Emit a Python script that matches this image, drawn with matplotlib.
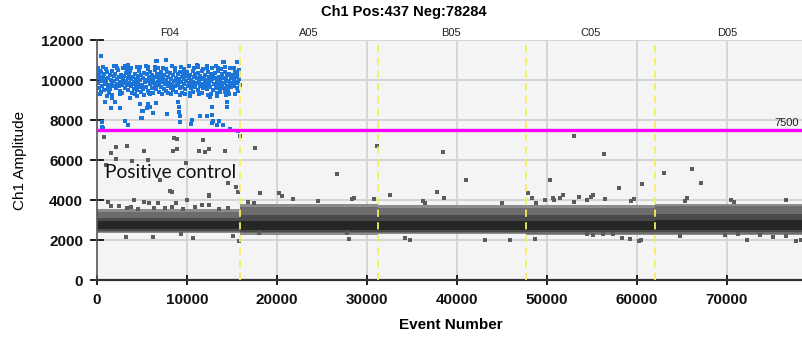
import matplotlib
matplotlib.use("Agg")
import matplotlib.pyplot as plt
from matplotlib.transforms import blended_transform_factory
import numpy as np

# ---------------- data ----------------
title = "Ch1 Pos:437 Neg:78284"
threshold = 7500
total_events = 78721

well_names = ["F04", "A05", "B05", "C05", "D05"]
well_edges = [0, 15900, 31200, 47700, 62000, total_events]
well_label_x = [8100, 23550, 39300, 54800, 70000]

# negative droplet cluster (dense band) per well: fringe / outer / mid / core extents
band_fringe_lo = [2330, 2260, 2280, 2230, 2230]
band_fringe_hi = [3550, 3780, 3750, 3760, 3800]
band_outer_lo = [2400, 2330, 2350, 2300, 2300]
band_outer_hi = [3420, 3650, 3620, 3620, 3680]
band_mid_lo = [2450, 2400, 2400, 2380, 2380]
band_mid_hi = [3100, 3250, 3250, 3250, 3300]
band_core_lo = [2560, 2520, 2520, 2500, 2500]
band_core_hi = [2950, 2960, 2960, 2960, 3000]

# isolated negative (gray) droplets
neg_points = [
    (811, 7165), (8556, 7115), (8856, 7065), (11744, 6985), (2078, 6650), (3300, 6715),
    (1556, 6350), (5222, 6465), (8411, 6465), (8922, 6550), (11367, 6465), (12000, 6425),
    (12478, 6575), (14222, 6475), (2078, 6035), (3856, 5965), (5633, 6000), (9889, 5835),
    (15922, 7200), (14589, 4865), (15444, 4650), (15700, 4415), (8111, 4465), (8367, 4385),
    (12478, 4265), (967, 5765), (7000, 5000),
    (1256, 3915), (4111, 4015), (5222, 3915), (5811, 3850), (6811, 3835), (8778, 3850),
    (10000, 4000), (12444, 4215), (1556, 3715), (2444, 3715), (3300, 3585), (3744, 3635),
    (4589, 3550), (6367, 3585), (7556, 3615), (8300, 3665), (9522, 3550), (10889, 3665),
    (11633, 3750), (12478, 3750), (13589, 3535), (14589, 3585),
    (9333, 2300), (10667, 2100), (15144, 2185), (15778, 1950), (3189, 2135), (6256, 2165),
    (17556, 6585), (26700, 5285), (31074, 6685), (18111, 4365), (20256, 4365), (20589, 4215),
    (21815, 4050), (24589, 3965), (28367, 4050), (28589, 4115), (30811, 4050), (32556, 4265),
    (36256, 3965), (36444, 3865), (16811, 3915), (17478, 3865), (15078, 2200), (18033, 2365),
    (27744, 2365), (28000, 2050), (34222, 2085), (34778, 2000),
    (38411, 6415), (53000, 7200), (56367, 6285), (40967, 5015), (50333, 5015), (57967, 4615),
    (37744, 4415), (38556, 4115), (44967, 3865), (47922, 4365), (48367, 4115), (48822, 3865),
    (49778, 4000), (50633, 4115), (50778, 4000), (51444, 4115), (51811, 4250), (53589, 4165),
    (54411, 4000), (54856, 4165), (55078, 4265), (53033, 3915), (56478, 4035),
    (48700, 2050), (54478, 2285), (55078, 2235), (56256, 2285), (57300, 2285), (43111, 2000),
    (45889, 2000),
    (60522, 4800), (63000, 5365), (66078, 5550), (67078, 4865), (65522, 4115), (65367, 3965),
    (59667, 4050), (59300, 3965), (70411, 4000), (70778, 3900), (76556, 4000),
    (58300, 2100), (59222, 2035), (60256, 1950), (60444, 2000), (64778, 2200), (69778, 2250),
    (71256, 2285), (72189, 2000), (73667, 2250), (75078, 2165), (76556, 2200), (77633, 1950),
    (78189, 2000),
]

# positive (blue) droplets in well F04
pos_points = [
    # sparse upper / lower droplets
    (411, 11215), (6633, 10965), (7633, 11015), (333, 10450), (2078, 10685), (3111, 10685),
    (3667, 10500), (4778, 10650), (5700, 10650), (6811, 10585), (333, 9285), (1078, 9185),
    (1700, 9115), (1256, 9550), (2000, 8885), (889, 8885), (1522, 8585), (2556, 8585),
    (3667, 9115), (4444, 9215), (4778, 8785), (5789, 9350), (5522, 8585), (5633, 8785),
    (5033, 8450), (6256, 8335), (7744, 8285), (4967, 8115), (3111, 7950), (3478, 7750),
    (522, 7885), (589, 7665), (14074, 10915), (15589, 10915), (11256, 10715), (12189, 10715),
    (12744, 10615), (13478, 10615), (15333, 10335), (15700, 10215), (9478, 9335),
    (10333, 9215), (12556, 9165), (13300, 9215), (14222, 9385), (8963, 8915), (9111, 8665),
    (9144, 8415), (9222, 8215), (9222, 7915), (12744, 8665), (12744, 8250), (14411, 8885),
    (14478, 8635), (11444, 8200), (10522, 8000), (10411, 7785), (7811, 8300), (12922, 7950),
    (13367, 7750), (14778, 7550), (15700, 7450), (633, 7585), (4856, 8085), (5144, 8465),
    (5889, 8635), (6589, 8865), (12256, 8200), (12778, 7865), (13589, 7950), (14000, 7750),
    (11144, 10765), (14000, 10915), (6589, 10965),
    # edges of the dense cluster
    (150, 10600), (700, 10650), (1300, 9350), (1900, 10700), (2500, 9300), (2900, 10600),
    (3400, 10750), (3900, 9350), (4400, 10650), (4900, 9400), (5400, 10700), (5900, 9300),
    (6400, 10650), (6900, 9400), (7300, 10600), (7900, 9350), (8300, 10700), (8800, 9400),
    (9300, 10650), (9800, 9300), (10200, 10700), (10700, 9400), (11200, 10650), (11700, 9350),
    (12200, 10600), (12700, 9300), (13200, 10700), (13700, 9400), (14200, 10650), (14700, 9300),
    (15200, 10600), (15700, 9450), (450, 9400), (1000, 10550), (1650, 9250), (2200, 10600),
    (2800, 9350), (3300, 10550), (3800, 10600), (4200, 9300), (4700, 10550), (5200, 9250),
    (5700, 10550), (6200, 9350), (6700, 10600), (7200, 9300), (7700, 10550), (8200, 9300),
    (8700, 10600), (9200, 9250), (9700, 10550), (10300, 9350), (10800, 10600), (11300, 9300),
    (11800, 10550), (12300, 9250), (12800, 10600), (13300, 9350), (13800, 10550), (14300, 9250),
    (14800, 10600), (15300, 9300), (15800, 10500),
    # dense cluster
    (120, 9850), (180, 10250), (260, 9620), (330, 10080), (410, 9930), (480, 10410), (560, 9720),
    (620, 10150), (700, 9980), (760, 9480), (830, 10320), (910, 9800), (960, 10050),
    (1040, 9900), (1110, 10380), (1190, 9650), (1260, 10120), (1330, 9760), (1400, 10230),
    (1480, 9540), (1550, 10010), (1620, 9870), (1700, 10460), (1780, 9700), (1850, 10180),
    (1930, 9940), (2040, 10290), (2100, 9580), (2180, 10050), (2250, 9810), (2330, 10520),
    (2400, 9690), (2470, 10130), (2550, 9910), (2610, 9460), (2690, 10270), (2760, 9760),
    (2840, 10060), (2930, 9850), (3030, 10180), (3090, 9620), (3170, 9960), (3240, 10350),
    (3320, 9740), (3390, 10090), (3460, 9520), (3530, 10240), (3610, 9870), (3680, 10470),
    (3760, 9680), (3830, 10030), (3910, 9800), (4020, 10150), (4080, 9570), (4160, 9900),
    (4240, 10310), (4300, 9720), (4380, 10060), (4450, 9490), (4530, 10200), (4600, 9830),
    (4690, 10440), (4750, 9650), (4830, 9990), (4920, 10260), (5010, 9760), (5090, 10110),
    (5150, 9540), (5230, 10370), (5300, 9880), (5380, 10020), (5460, 9660), (5530, 10280),
    (5600, 9930), (5680, 9450), (5750, 10170), (5840, 9790), (5920, 10400), (6010, 9950),
    (6080, 10230), (6150, 9610), (6240, 10070), (6310, 9840), (6390, 10490), (6460, 9700),
    (6530, 10140), (6610, 9530), (6700, 10310), (6770, 9890), (6850, 10040), (6930, 9760),
    (7020, 10190), (7100, 9640), (7160, 10380), (7250, 9920), (7320, 10100), (7400, 9560),
    (7470, 10270), (7550, 9800), (7630, 10010), (7700, 9470), (7780, 10420), (7860, 9720),
    (7940, 10150), (8030, 9860), (8090, 10330), (8170, 9600), (8260, 10070), (8330, 9780),
    (8400, 10250), (8480, 9510), (8560, 9960), (8630, 10450), (8710, 9690), (8790, 10120),
    (8870, 9880), (8950, 10290), (9030, 9740), (9100, 10030), (9180, 9580), (9250, 10400),
    (9330, 9900), (9400, 10170), (9490, 9650), (9560, 10330), (9640, 9820), (9710, 10060),
    (9790, 9530), (9860, 10220), (9940, 9960), (10020, 10380), (10090, 9700), (10170, 10090),
    (10240, 9860), (10330, 10260), (10390, 9590), (10470, 10010), (10550, 9780), (10620, 10470),
    (10700, 9920), (10780, 10150), (10860, 9640), (10930, 10300), (11030, 9830), (11100, 10080),
    (11180, 9500), (11260, 10360), (11330, 9900), (11410, 10200), (11480, 9680), (11560, 10040),
    (11640, 9790), (11710, 10430), (11790, 9610), (11870, 10110), (11950, 9940), (12020, 10240),
    (12100, 9730), (12170, 10020), (12250, 9560), (12330, 10380), (12400, 9870), (12480, 10130),
    (12550, 9660), (12630, 10290), (12710, 9940), (12790, 10060), (12860, 9480), (12940, 10200),
    (13030, 9800), (13100, 10340), (13180, 9620), (13250, 10090), (13330, 9890), (13400, 10460),
    (13480, 9710), (13560, 10170), (13630, 9540), (13710, 10010), (13790, 9830), (13870, 10280),
    (13940, 9690), (14030, 10120), (14090, 9580), (14170, 10390), (14250, 9850), (14320, 10050),
    (14400, 9720), (14480, 10230), (14550, 9500), (14630, 9970), (14710, 10320), (14790, 9780),
    (14860, 10100), (14940, 9640), (15020, 10260), (15090, 9860), (15170, 10040), (15250, 9700),
    (15320, 10400), (15400, 9920), (15480, 10150), (15560, 9600), (15630, 10300), (15710, 9830),
    (15790, 10070), (15860, 9750),
]

annotation = "Positive control"
annotation_pos = (900, 5350)

xticks = [0, 10000, 20000, 30000, 40000, 50000, 60000, 70000]
yticks = [0, 2000, 4000, 6000, 8000, 10000, 12000]

# ---------------- plot ----------------
plt.rcParams["font.family"] = ["Liberation Sans", "DejaVu Sans"]

W, H = 802, 338
fig = plt.figure(figsize=(W / 100, H / 100), dpi=100)
fig.patch.set_facecolor("white")
ax_left, ax_right, ax_top, ax_bottom = 97, 805.5, 40, 280
ax = fig.add_axes([ax_left / W, (H - ax_bottom) / H, (ax_right - ax_left) / W,
                   (ax_bottom - ax_top) / H])
ax.set_facecolor("#f4f4f4")
ax.set_xlim(0, total_events)
ax.set_ylim(0, 12000)

# grid
for xv in xticks[1:]:
    ax.axvline(xv, color="#d2d2d2", lw=1.3, zorder=1)
for yv in yticks[1:]:
    ax.axhline(yv, color="#d2d2d2", lw=1.3, zorder=1)

# negative band
for i in range(len(well_names)):
    x0, x1 = well_edges[i], well_edges[i + 1]
    ax.fill_between([x0, x1], band_fringe_lo[i], band_fringe_hi[i], color="#8c8c8c",
                    lw=0, zorder=2)
    ax.fill_between([x0, x1], band_outer_lo[i], band_outer_hi[i], color="#6c6c6c",
                    lw=0, zorder=2.05)
    ax.fill_between([x0, x1], band_mid_lo[i], band_mid_hi[i], color="#4a4a4a",
                    lw=0, zorder=2.1)
    ax.fill_between([x0, x1], band_core_lo[i], band_core_hi[i], color="#262626",
                    lw=0, zorder=2.2)

nx, ny = zip(*neg_points)
ax.scatter(nx, ny, s=7, marker="s", color="#5c5c5c", linewidths=0, zorder=3)

px, py = zip(*pos_points)
ax.scatter(px, py, s=11, marker="s", color="#1b74d8", linewidths=0, zorder=4)

# well boundaries
for xv in well_edges[1:-1]:
    ax.axvline(xv, color="#f2ef5a", lw=1.3, ls=(0, (4, 3)), zorder=5)

# threshold
ax.axhline(threshold, color="#ff00ff", lw=2.4, zorder=6)
ax.text(75300, threshold + 120, str(threshold), fontsize=8, color="#222222",
        ha="left", va="bottom", zorder=7)

# annotation
ax.text(annotation_pos[0], annotation_pos[1], annotation, fontsize=13.8,
        family=["Lato", "DejaVu Sans"], color="#111111", ha="left", va="center", zorder=7)

# well labels
trans = blended_transform_factory(ax.transData, ax.transAxes)
for name, xv in zip(well_names, well_label_x):
    ax.text(xv, 1.008, name, transform=trans, ha="center", va="bottom", fontsize=8,
            color="#222222")

# axes styling
for s in ["top", "right"]:
    ax.spines[s].set_visible(False)
ax.spines["left"].set_color("#555555")
ax.spines["bottom"].set_color("#333333")
ax.spines["left"].set_linewidth(1.2)
ax.spines["bottom"].set_linewidth(1.6)
ax.set_xticks(xticks)
ax.set_yticks(yticks)
ax.set_xticklabels([str(v) for v in xticks], fontsize=11, fontweight="bold")
ax.set_yticklabels([str(v) for v in yticks], fontsize=11, fontweight="bold")
ax.tick_params(axis="y", direction="inout", length=10, width=1.3, pad=5, colors="#111111")
ax.tick_params(axis="x", direction="inout", length=7, width=1.3, pad=6, colors="#111111")

fig.text(451 / W, 1 - 325 / H, "Event Number", ha="center", va="center", fontsize=11,
         fontweight="bold")
fig.text(20 / W, 1 - 160 / H, "Ch1 Amplitude", ha="center", va="center", fontsize=11,
         rotation=90)
fig.text(404 / W, 1 - 12 / H, title, ha="center", va="center", fontsize=10.5,
         fontweight="bold")

fig.savefig("out.png", dpi=100)
